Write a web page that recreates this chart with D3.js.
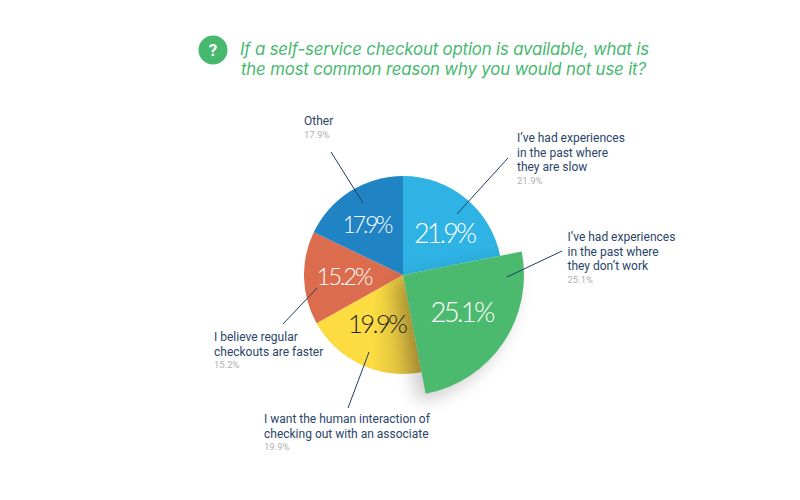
<!DOCTYPE html>
<html>
<head>
<meta charset="utf-8">
<script src="https://cdn.jsdelivr.net/npm/d3@7"></script>
<style>
  html, body { margin: 0; background: #fff; }
  svg { display: block; }
  .title { font: italic 400 16.8px Inter, sans-serif; fill: #47b96f; }
  .name { font: 400 12px Roboto, sans-serif; fill: #2a4569; }
  .pct { font: 400 9.5px Roboto, sans-serif; fill: #b0b0b0; }
  .inside { font-family: Lato, sans-serif; font-weight: 300; text-anchor: middle; }
</style>
</head>
<body>
<svg id="chart" width="800" height="500"></svg>
<script>
const titleLines = ["If a self-service checkout option is available, what is",
                    "the most common reason why you would not use it?"];
const categories = [
  ["I’ve had experiences", "in the past where", "they are slow"],
  ["I’ve had experiences", "in the past where", "they don’t work"],
  ["I want the human interaction of", "checking out with an associate"],
  ["I believe regular", "checkouts are faster"],
  ["Other"]
];
const values = [21.9, 25.1, 19.9, 15.2, 17.9];
const colors = ["#2eb3e4", "#4bba6f", "url(#yellowShade)", "#dc6c4e", "#2084c4"];
const insideColors = ["#fff", "#fff", "#222", "#fff", "#fff"];

// placement
const titleWidth = [409, 405];
const labelPos = [[517, 142], [567.5, 241], [264, 423], [214, 341], [304, 125]];
const insidePos = [[445.5, 242.7], [463, 321.7], [378, 332.7], [345, 284.5], [368, 232.7]];
const insideSize = [27, 27.5, 25.5, 24, 23];
const insideWidth = [63, 65, 60, 57, 51];
const leaders = [
  [[457, 214], [508, 158]],
  [[507, 277], [562, 251]],
  [[369, 352], [348, 408]],
  [[317, 288], [283, 324]],
  [[363, 203], [331, 152]]
];

const fmt = d => d.toFixed(1) + "%";
const svg = d3.select("#chart");
const defs = svg.append("defs");

// gradient coordinates are relative to the pie centre
const yellow = defs.append("linearGradient").attr("id", "yellowShade")
  .attr("gradientUnits", "userSpaceOnUse")
  .attr("x1", -30).attr("x2", 18).attr("y1", 0).attr("y2", 0);
yellow.append("stop").attr("offset", 0).attr("stop-color", "#fcdc41");
yellow.append("stop").attr("offset", 1).attr("stop-color", "#c8ab3f");

defs.append("filter").attr("id", "blur")
  .attr("x", "-30%").attr("y", "-30%").attr("width", "160%").attr("height", "160%")
  .append("feGaussianBlur").attr("stdDeviation", 9);

// header
const head = svg.append("g");
head.append("circle").attr("cx", 213).attr("cy", 50).attr("r", 14.5).attr("fill", "#47b96f");
head.append("text").attr("x", 213).attr("y", 56).attr("text-anchor", "middle")
  .attr("fill", "#fff").style("font", "700 17px Roboto, sans-serif").text("?");
head.selectAll(".title").data(titleLines).join("text")
  .attr("class", "title")
  .attr("x", (d, i) => 240 + i)
  .attr("y", (d, i) => 55 + i * 20)
  .attr("textLength", (d, i) => titleWidth[i])
  .text(d => d);

// pie
const pie = d3.pie().sort(null).value(d => d)(values);
const arc = d3.arc().innerRadius(0).outerRadius(99);
const bigArc = d3.arc().innerRadius(0).outerRadius(121);
const g = svg.append("g").attr("transform", "translate(403,275)");

g.selectAll(".slice").data(pie.filter(d => d.index !== 1)).join("path")
  .attr("class", "slice")
  .attr("fill", d => colors[d.index])
  .attr("d", arc);

// the pulled slice sits on its own soft shadow
const big = pie[1];
g.append("path").attr("d", bigArc(big)).attr("fill", "#000").attr("opacity", 0.2)
  .attr("transform", "translate(-8,8)").attr("filter", "url(#blur)");
g.append("path").attr("d", bigArc(big)).attr("fill", colors[1]);

svg.selectAll(".inside").data(values).join("text")
  .attr("class", "inside")
  .attr("x", (d, i) => insidePos[i][0])
  .attr("y", (d, i) => insidePos[i][1])
  .attr("fill", (d, i) => insideColors[i])
  .attr("textLength", (d, i) => insideWidth[i])
  .style("font-size", (d, i) => insideSize[i] + "px")
  .text(fmt);

// leader lines
const line = d3.line();
svg.selectAll(".leader").data(leaders).join("path")
  .attr("class", "leader")
  .attr("d", d => line(d))
  .attr("fill", "none").attr("stroke", "#1f3c66").attr("stroke-width", 1);

// outside labels
const labels = svg.selectAll(".label").data(categories).join("g")
  .attr("class", "label")
  .attr("transform", (d, i) => `translate(${labelPos[i][0]},${labelPos[i][1]})`);
labels.selectAll(".name").data(d => d).join("text")
  .attr("class", "name")
  .attr("y", (d, i) => i * 14.7)
  .text(d => d);
labels.append("text").attr("class", "pct")
  .attr("y", (d, i) => (d.length - 1) * 14.7 + 12.5)
  .text((d, i) => fmt(values[i]));
</script>
</body>
</html>
